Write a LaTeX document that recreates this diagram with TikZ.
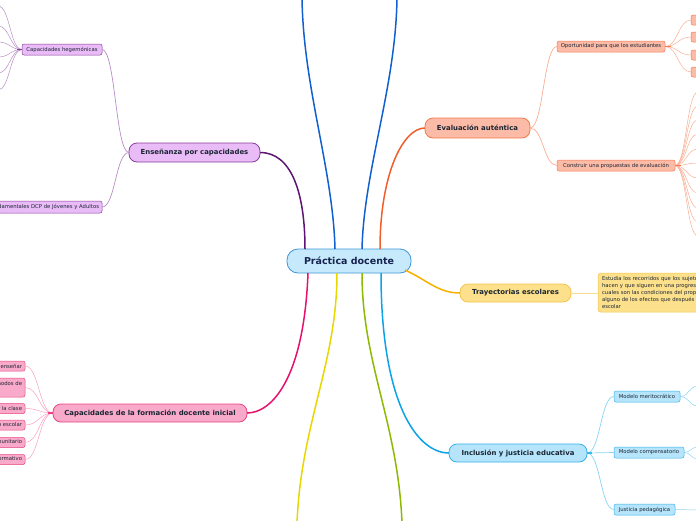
\documentclass[tikz,border=0pt]{standalone}
\usepackage{fontspec}
\setmainfont{DejaVu Sans}
\usetikzlibrary{calc}
\definecolor{txt}{HTML}{1A2533}
\definecolor{navy}{HTML}{16234F}
\definecolor{cfill}{HTML}{C6E9FB}
\definecolor{cdraw}{HTML}{3E97D6}
\definecolor{tblue}{HTML}{1160D0}
\definecolor{pdark}{HTML}{5C1570}
\definecolor{pfill}{HTML}{E9BBF7}
\definecolor{pdraw}{HTML}{8A3E9C}
\definecolor{plight}{HTML}{B88CC6}
\definecolor{mdark}{HTML}{E8106C}
\definecolor{mfill}{HTML}{F9A9C9}
\definecolor{mdraw}{HTML}{E5457F}
\definecolor{mlight}{HTML}{F7A0C2}
\definecolor{odark}{HTML}{F25E2A}
\definecolor{ofill}{HTML}{FBBBA7}
\definecolor{odraw}{HTML}{F2794E}
\definecolor{olight}{HTML}{F8AE94}
\definecolor{gdark}{HTML}{F5B000}
\definecolor{gfill}{HTML}{FDE08C}
\definecolor{gdraw}{HTML}{F4C54A}
\definecolor{glight}{HTML}{F7DE90}
\definecolor{bdark}{HTML}{0AA3E8}
\definecolor{bfill}{HTML}{B6E5FB}
\definecolor{bdraw}{HTML}{34B1EA}
\definecolor{blight}{HTML}{8AD3F4}
\definecolor{ydark}{HTML}{E8D600}
\definecolor{lgreen}{HTML}{8CBA00}
\begin{document}
\begin{tikzpicture}[x=1pt,y=-1pt,
  every node/.style={inner sep=0pt,outer sep=0pt,text=txt},
  sc/.style={to path={let \p1=(\tikztostart), \p2=(\tikztotarget) in
     .. controls ({0.5*\x1+0.5*\x2},\y1) and ({0.5*\x1+0.5*\x2},\y2) .. (\tikztotarget)}},
  mainnode/.style={draw=cdraw,fill=cfill,line width=0.8pt,rounded corners=11pt,
     minimum width=124pt,minimum height=24pt,font=\fontsize{9.5}{11}\selectfont\bfseries,text=navy},
  branch/.style={line width=0.8pt,rounded corners=8pt,minimum height=19pt,
     font=\fontsize{6.9}{8}\selectfont\bfseries},
  leaf/.style={line width=0.5pt,rounded corners=2pt,minimum height=11pt,inner xsep=3pt,
     font=\fontsize{5.3}{6.5}\selectfont},
  thick line/.style={line width=1.5pt},
  mid line/.style={line width=0.7pt},
  thin line/.style={line width=0.5pt}
]
\useasboundingbox (0,0) rectangle (696,520);
\clip (0,0) rectangle (696,520);

% ---- nodes ----
\node[mainnode] (c) at (349,261) {Práctica docente};
\node[branch,draw=pdraw,fill=pfill,minimum width=131pt] (ens) at (194.5,152.5) {Enseñanza por capacidades};
\node[branch,draw=odraw,fill=ofill,minimum width=105pt,minimum height=20pt] (eva) at (477.5,128) {Evaluación auténtica};
\node[branch,draw=gdraw,fill=gfill,minimum width=111pt,minimum height=18pt] (tra) at (515.5,293) {Trayectorias escolares};
\node[branch,draw=bdraw,fill=bfill,minimum width=138pt,minimum height=18pt] (inc) at (518,453) {Inclusión y justicia educativa};
\node[branch,draw=mdraw,fill=mfill,minimum width=194pt,minimum height=18pt] (cap) at (150,413) {Capacidades de la formación docente inicial};

\node[leaf,draw=pdraw,fill=pfill,minimum width=80pt] (heg) at (62,49.5) {Capacidades hegemónicas};
\node[leaf,draw=pdraw,fill=pfill,anchor=east,minimum height=12pt] (dcp) at (102,207) {Capacidades fundamentales DCP de Jóvenes y Adultos};

\node[leaf,draw=odraw,fill=ofill,minimum width=108pt] (opo) at (611,46.5) {Oportunidad para que los estudiantes};
\node[leaf,draw=odraw,fill=ofill,minimum width=118pt] (con) at (616,165.5) {Construir una propuestas de evaluación};
\foreach \nm/\yy in {o1/20,o2/37,o3/55,o4/72}
  \node[leaf,draw=odraw,fill=ofill,anchor=west,minimum width=40pt,minimum height=10pt] (\nm) at (691,\yy) {};

\node[leaf,draw=gdraw,fill=gfill,anchor=north west,align=left,inner xsep=4pt,inner ysep=3.5pt,
  rounded corners=3pt,font=\fontsize{5.3}{7}\selectfont,text width=150pt] (trt) at (598,273)
  {Estudia los recorridos que los sujetos\\hacen y que siguen en una progresión\\cuales son las condiciones del propio\\alguno de los efectos que después\\escolar};

\node[leaf,draw=bdraw,fill=bfill,minimum width=66pt] (mer) at (647,396.5) {Modelo meritocrático};
\node[leaf,draw=bdraw,fill=bfill,minimum width=70pt] (com) at (649,452.5) {Modelo compensatorio};
\node[leaf,draw=bdraw,fill=bfill,minimum width=61pt] (jus) at (644.5,509.5) {Justicia pedagógica};

\node[leaf,draw=mdraw,fill=mfill,anchor=east,minimum height=10pt] (k1) at (25,366) {Dominar los saberes a enseñar};
\node[leaf,draw=mdraw,fill=mfill,anchor=east,align=left,minimum height=19pt] (k2) at (25,387.5) {Actuar de acuerdo con las características y diversos modos de\\aprender de los estudiantes};
\node[leaf,draw=mdraw,fill=mfill,anchor=east,minimum height=10pt] (k3) at (25,408.5) {Dirigir la enseñanza y gestionar la clase};
\node[leaf,draw=mdraw,fill=mfill,anchor=east,minimum height=10pt] (k4) at (25,425) {Intervenir en la dinámica grupal y organizar el trabajo escolar};
\node[leaf,draw=mdraw,fill=mfill,anchor=east,minimum height=10pt] (k5) at (25,442.5) {Intervenir en el escenario institucional y comunitario};
\node[leaf,draw=mdraw,fill=mfill,anchor=east,minimum height=10pt] (k6) at (25,459.5) {Comprometerse con el propio proceso formativo};

% ---- free ends ----
\coordinate (t1) at (302,-3);
\coordinate (t2) at (397,-3);
\coordinate (b1) at (297,523);
\coordinate (b2) at (402,523);
\foreach \ii/\yy in {1/6,2/26,3/42,4/57,5/73,6/90}
  \coordinate (h\ii) at (-2,\yy);
\foreach \ii/\yy in {1/92,2/106,3/120,4/134,5/149,6/163,7/178,8/193,9/208,10/222,11/236}
  \coordinate (e\ii) at (698,\yy);
\coordinate (m1) at (698,386);
\coordinate (m2) at (698,406);
\coordinate (p1) at (698,447);
\coordinate (p2) at (698,459);
\coordinate (j1) at (698,510);

% ---- main connectors ----
\draw[thick line,pdark] ($(c.north)+(-44,0)$) .. controls +(0,-55) and +(32,0) .. (ens.east);
\draw[thick line,tblue] ($(c.north)+(-14,0)$) .. controls +(-2,-80) and +(1,90) .. (t1);
\draw[thick line,tblue] ($(c.north)+(13,0)$) .. controls +(2,-80) and +(-1,90) .. (t2);
\draw[thick line,odark] ($(c.north)+(31,0)$) .. controls +(0,-75) and +(-22,0) .. (eva.west);
\draw[thick line,gdark] ($(c.east)+(-6,9)$) .. controls +(22,10) and +(-22,0) .. (tra.west);
\draw[thick line,bdark] ($(c.south)+(32,0)$) .. controls +(0,130) and +(-32,0) .. (inc.west);
\draw[thick line,mdark] ($(c.south)+(-41,0)$) .. controls +(-4,105) and +(25,0) .. (cap.east);
\draw[thick line,ydark] ($(c.south)+(-12,0)$) .. controls +(0,90) and +(4,-100) .. (b1);
\draw[thick line,lgreen] ($(c.south)+(13,0)$) .. controls +(0,90) and +(-4,-100) .. (b2);

% ---- sub connectors ----
\draw[mid line,plight] (ens.west) to[sc] (heg.east);
\draw[mid line,plight] (ens.west) to[sc] (dcp.east);
\foreach \ii in {1,...,6} \draw[thin line,plight] (heg.west) to[sc] (h\ii);
\draw[line width=1.5pt,pdark!80] (heg.west) -- ++(-5,0);

\draw[mid line,olight] (eva.east) to[sc] (opo.west);
\draw[mid line,olight] (eva.east) to[sc] (con.west);
\draw[thin line,olight] (opo.east) to[sc] (o1.west);
\draw[thin line,olight] (opo.east) to[sc] (o2.west);
\draw[thin line,olight] (opo.east) to[sc] (o3.west);
\draw[thin line,olight] (opo.east) to[sc] (o4.west);
\foreach \ii in {1,...,11} \draw[thin line,olight] (con.east) to[sc] (e\ii);
\draw[line width=1.5pt,odark!80] (opo.east) -- ++(6,0);
\draw[line width=1.5pt,odark!80] (con.east) -- ++(6,0);

\draw[mid line,glight] (tra.east) -- (trt.west |- tra.east);

\draw[mid line,blight] (inc.east) to[sc] (mer.west);
\draw[mid line,blight] (inc.east) to[sc] (com.west);
\draw[mid line,blight] (inc.east) to[sc] (jus.west);
\draw[thin line,blight] (mer.east) to[sc] (m1);
\draw[thin line,blight] (mer.east) to[sc] (m2);
\draw[thin line,blight] (com.east) to[sc] (p1);
\draw[thin line,blight] (com.east) to[sc] (p2);
\draw[thin line,blight] (jus.east) -- (j1);
\draw[line width=1.5pt,bdark!80] (inc.east) -- ++(5,0);

\draw[thin line,mlight] (cap.west) to[sc] (k1.east);
\draw[thin line,mlight] (cap.west) to[sc] (k2.east);
\draw[thin line,mlight] (cap.west) to[sc] (k3.east);
\draw[thin line,mlight] (cap.west) to[sc] (k4.east);
\draw[thin line,mlight] (cap.west) to[sc] (k5.east);
\draw[thin line,mlight] (cap.west) to[sc] (k6.east);
\draw[line width=1.5pt,mdark!80] (cap.west) -- ++(-5,0);
\end{tikzpicture}
\end{document}
